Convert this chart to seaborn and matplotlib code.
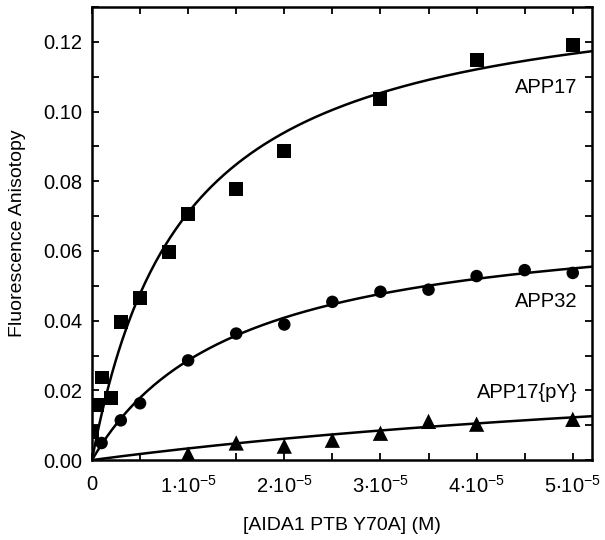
import numpy as np
import pandas as pd
import matplotlib
matplotlib.use("Agg")
import matplotlib.pyplot as plt
import seaborn as sns
from matplotlib.ticker import MultipleLocator, FixedLocator

# concentrations in units of 1e-5 M, anisotropy values
app17_x = [0.0, 0.05, 0.1, 0.2, 0.3, 0.5, 0.8, 1.0, 1.5, 2.0, 3.0, 4.0, 5.0]
app17_y = [0.0080, 0.0157, 0.0237, 0.0177, 0.0397, 0.0466, 0.0597, 0.0706,
           0.0777, 0.0886, 0.1037, 0.1149, 0.1190]

app32_x = [0.1, 0.3, 0.5, 1.0, 1.5, 2.0, 2.5, 3.0, 3.5, 4.0, 4.5, 5.0]
app32_y = [0.0049, 0.0114, 0.0163, 0.0286, 0.0363, 0.0389, 0.0454, 0.0483,
           0.0489, 0.0528, 0.0545, 0.0537]

pY_x = [1.0, 1.5, 2.0, 2.5, 3.0, 3.5, 4.0, 5.0]
pY_y = [0.0017, 0.0049, 0.0040, 0.0057, 0.0077, 0.0111, 0.0103, 0.0117]

# single-site binding fits (Bmax, Kd in 1e-5 M) as drawn in the figure
fit_params = {"APP17": (0.1389, 0.956), "APP32": (0.0715, 1.5), "APP17{pY}": (0.0368, 10.0)}

series_names = ["APP17", "APP32", "APP17{pY}"]
markers = {"APP17": "s", "APP32": "o", "APP17{pY}": "^"}
marker_sizes = {"APP17": 10, "APP32": 9, "APP17{pY}": 11}

yticks = [0, 0.02, 0.04, 0.06, 0.08, 0.10, 0.12]
xticks = [0, 1, 2, 3, 4, 5]

sns.set_style("ticks")
plt.rcParams["font.family"] = ["Liberation Sans", "DejaVu Sans"]
plt.rcParams["mathtext.fontset"] = "custom"
plt.rcParams["mathtext.rm"] = "Liberation Sans"
plt.rcParams["mathtext.it"] = "Liberation Sans:italic"
plt.rcParams["text.color"] = "black"
plt.rcParams["axes.labelcolor"] = "black"
plt.rcParams["xtick.color"] = "black"
plt.rcParams["ytick.color"] = "black"
plt.rcParams["axes.edgecolor"] = "black"

df = pd.concat([
    pd.DataFrame({"x": app17_x, "y": app17_y, "peptide": "APP17"}),
    pd.DataFrame({"x": app32_x, "y": app32_y, "peptide": "APP32"}),
    pd.DataFrame({"x": pY_x, "y": pY_y, "peptide": "APP17{pY}"}),
])

fig = plt.figure(figsize=(6.05, 5.4), dpi=100)
ax = fig.add_axes([0.152, 0.148, 0.8265, 0.839])

xs = np.linspace(0, 5.2, 300)
for name in series_names:
    bmax, kd = fit_params[name]
    sns.lineplot(x=xs, y=bmax * xs / (kd + xs), color="black", lw=1.8, ax=ax)
    sub = df[df["peptide"] == name]
    sns.scatterplot(data=sub, x="x", y="y", marker=markers[name], color="black",
                    s=marker_sizes[name] ** 2, edgecolor="none", ax=ax, zorder=3)

ax.set_xlim(0, 5.2)
ax.set_ylim(0, 0.13)
ax.xaxis.set_major_locator(FixedLocator(xticks))
ax.xaxis.set_minor_locator(MultipleLocator(0.5))
ax.yaxis.set_major_locator(FixedLocator(yticks))
ax.yaxis.set_minor_locator(MultipleLocator(0.01))

xlabels = ["0"] + [r"$\mathregular{%d{\cdot}10^{-5}}$" % i for i in xticks[1:]]
ax.set_xticklabels(xlabels, fontsize=14.5)
ax.set_yticklabels(["%.2f" % v for v in yticks], fontsize=14.5)

ax.tick_params(which="both", direction="in", top=True, right=True, length=5, width=1.3)
ax.tick_params(axis="x", pad=11)
ax.tick_params(axis="y", pad=7)
for sp in ax.spines.values():
    sp.set_linewidth(1.8)

ax.set_xlabel("[AIDA1 PTB Y70A] (M)", fontsize=14, labelpad=14)
ax.set_ylabel("Fluorescence Anisotopy", fontsize=14, labelpad=12)

ax.text(5.05, 0.107, "APP17", ha="right", va="center", fontsize=14.5)
ax.text(5.05, 0.0455, "APP32", ha="right", va="center", fontsize=14.5)
ax.text(5.05, 0.0195, "APP17{pY}", ha="right", va="center", fontsize=14.5)

fig.savefig("out.png", dpi=100)
